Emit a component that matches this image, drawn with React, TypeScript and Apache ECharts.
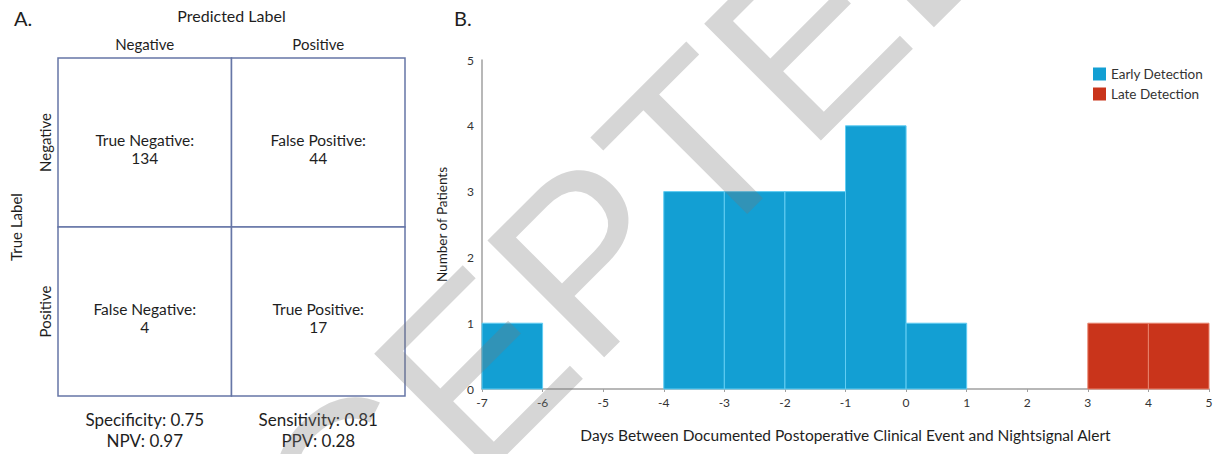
import React, { useEffect, useRef } from "react";
import * as echarts from "echarts";

// ---- Panel A: confusion matrix ----
const predictedLabels = ["Negative", "Positive"];
const trueLabels = ["Negative", "Positive"];
const cellNames = ["True Negative:", "False Positive:", "False Negative:", "True Positive:"];
const cellCounts = [134, 44, 4, 17];
const cellPredicted = [0, 1, 0, 1];
const cellTrue = [0, 0, 1, 1];
const metricLabels = ["Specificity: 0.75\nNPV: 0.97", "Sensitivity: 0.81\nPPV: 0.28"];

// ---- Panel B: histogram ----
const binStarts = [-7, -6, -5, -4, -3, -2, -1, 0, 1, 2, 3, 4];
const earlyCounts = [1, 0, 0, 3, 3, 3, 4, 1, 0, 0, 0, 0];
const lateCounts = [0, 0, 0, 0, 0, 0, 0, 0, 0, 0, 1, 1];
const seriesNames = ["Early Detection", "Late Detection"];

const FONT = "Lato, 'Open Sans', sans-serif";
const TEXT = "#1e1e1e";
const BLUE = "#139fd3";
const RED = "#c9341b";
const GRID_LINE = "#6676a6";

function binsToData(counts: number[]) {
  const out: number[][] = [];
  counts.forEach((c, i) => {
    if (c > 0) out.push([binStarts[i], binStarts[i] + 1, c]);
  });
  return out;
}

export default function App() {
  const ref = useRef<HTMLDivElement>(null);
  useEffect(() => {
    if (!ref.current) return;
    const chart = echarts.init(ref.current, null, { renderer: "svg" });
    const histRender = (stroke: string) => (params: any, api: any) => {
      const p0 = api.coord([api.value(0), api.value(2)]);
      const p1 = api.coord([api.value(1), 0]);
      return {
        type: "rect",
        shape: { x: p0[0], y: p0[1], width: p1[0] - p0[0], height: p1[1] - p0[1] },
        style: { fill: api.visual("color"), stroke, lineWidth: 1 },
      };
    };
    chart.setOption({
      animation: false,
      textStyle: { fontFamily: FONT },
      grid: [
        { left: 58, top: 58, width: 347, height: 338 },
        { left: 482, top: 60, right: 10, bottom: 65 },
      ],
      xAxis: [
        {
          type: "category",
          gridIndex: 0,
          position: "top",
          data: predictedLabels,
          name: "Predicted Label",
          nameLocation: "middle",
          nameGap: 35,
          nameTextStyle: { fontSize: 16, color: TEXT, fontFamily: FONT },
          axisLine: { show: false },
          axisTick: { show: false },
          axisLabel: { fontSize: 15, color: TEXT, margin: 7, fontFamily: FONT },
        },
        {
          type: "category",
          gridIndex: 0,
          position: "bottom",
          data: metricLabels,
          axisLine: { show: false },
          axisTick: { show: false },
          axisLabel: { fontSize: 17, color: TEXT, margin: 13, lineHeight: 21, fontFamily: FONT },
        },
        {
          type: "value",
          gridIndex: 1,
          min: -7,
          max: 5,
          interval: 1,
          name: "Days Between Documented Postoperative Clinical Event and Nightsignal Alert",
          nameLocation: "middle",
          nameGap: 38,
          nameTextStyle: { fontSize: 15.5, color: TEXT, fontFamily: FONT },
          splitLine: { show: false },
          axisLine: { lineStyle: { color: "#a0a0a0", width: 1.5 } },
          axisTick: { length: 3, lineStyle: { color: "#a0a0a0" } },
          axisLabel: { fontSize: 12, color: "#333", margin: 7, fontFamily: FONT },
        },
      ],
      yAxis: [
        {
          type: "category",
          gridIndex: 0,
          inverse: true,
          data: trueLabels,
          name: "True Label",
          nameLocation: "middle",
          nameGap: 35,
          nameRotate: 90,
          nameTextStyle: { fontSize: 15, color: TEXT, fontFamily: FONT },
          axisLine: { show: false },
          axisTick: { show: false },
          axisLabel: { fontSize: 15, color: TEXT, rotate: 90, margin: 6, fontFamily: FONT },
        },
        {
          type: "value",
          gridIndex: 1,
          min: 0,
          max: 5,
          interval: 1,
          name: "Number of Patients",
          nameLocation: "middle",
          nameGap: 33,
          nameTextStyle: { fontSize: 13.5, color: TEXT, fontFamily: FONT },
          splitLine: { show: false },
          axisLine: { show: true, onZero: false, lineStyle: { color: "#a0a0a0", width: 1.5 } },
          axisTick: { show: false },
          axisLabel: { fontSize: 12, color: "#333", margin: 8, fontFamily: FONT },
        },
      ],
      legend: {
        orient: "vertical",
        left: 1093,
        top: 67,
        padding: 0,
        itemWidth: 13,
        itemHeight: 13,
        itemGap: 6,
        icon: "rect",
        data: seriesNames,
        textStyle: { fontSize: 13.5, color: "#333", fontFamily: FONT },
      },
      series: [
        {
          type: "custom",
          name: "matrix",
          xAxisIndex: 0,
          yAxisIndex: 0,
          data: cellCounts.map((c, i) => [cellPredicted[i], cellTrue[i], c]),
          renderItem: (params: any, api: any) => {
            const c = api.coord([api.value(0), api.value(1)]);
            const s = api.size([1, 1]);
            const i = params.dataIndex;
            return {
              type: "group",
              children: [
                {
                  type: "rect",
                  shape: { x: c[0] - s[0] / 2, y: c[1] - s[1] / 2, width: s[0], height: s[1] },
                  style: { fill: "#fff", stroke: GRID_LINE, lineWidth: 1.5 },
                },
                {
                  type: "text",
                  x: c[0],
                  y: c[1] + 6,
                  style: {
                    text: cellNames[i] + "\n" + api.value(2),
                    fontSize: 15.5,
                    lineHeight: 18,
                    fontFamily: FONT,
                    fill: TEXT,
                    align: "center",
                    verticalAlign: "middle",
                  },
                },
              ],
            };
          },
        },
        {
          type: "custom",
          name: seriesNames[0],
          xAxisIndex: 2,
          yAxisIndex: 1,
          itemStyle: { color: BLUE },
          encode: { x: [0, 1], y: 2 },
          data: binsToData(earlyCounts),
          renderItem: histRender("#62cdf3"),
        },
        {
          type: "custom",
          name: seriesNames[1],
          xAxisIndex: 2,
          yAxisIndex: 1,
          itemStyle: { color: RED },
          encode: { x: [0, 1], y: 2 },
          data: binsToData(lateCounts),
          renderItem: histRender("#e8826c"),
        },
      ],
      graphic: [
        {
          type: "text",
          left: 14,
          top: 8,
          style: { text: "A.", fontSize: 20, fill: TEXT, fontFamily: FONT },
        },
        {
          type: "text",
          left: 454,
          top: 8,
          style: { text: "B.", fontSize: 20, fill: TEXT, fontFamily: FONT },
        },
        {
          type: "text",
          x: 522,
          y: 322,
          rotation: Math.PI / 4,
          z: 100,
          silent: true,
          style: {
            text: "ACCEPTED",
            fontSize: 240,
            fontFamily: "'Liberation Sans', Arial, sans-serif",
            fill: "rgba(120,120,120,0.3)",
            align: "center",
            verticalAlign: "middle",
          },
        },
      ],
    });
    return () => chart.dispose();
  }, []);
  return <div ref={ref} style={{ width: 1219, height: 454, position: "absolute", left: 0, top: 0 }} />;
}
